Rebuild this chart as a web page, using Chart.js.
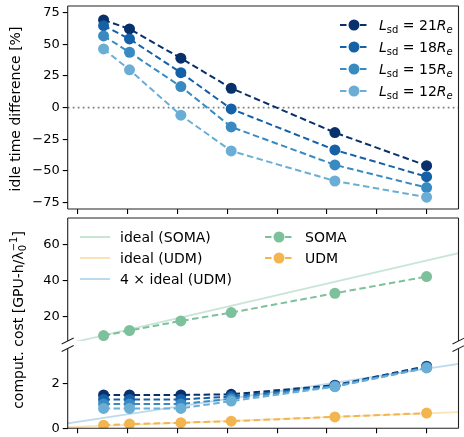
<!DOCTYPE html>
<html>
<head>
<meta charset="utf-8">
<script src="https://cdn.jsdelivr.net/npm/chart.js@4.4.1/dist/chart.umd.min.js"></script>
<style>
  body { margin: 0; background: #fff; width: 464px; height: 437px; overflow: hidden; position: relative;
         font-family: 'DejaVu Sans', sans-serif; color: #000; }
  canvas { position: absolute; left: 0; }
  svg { position: absolute; left: 0; top: 0; pointer-events: none; }
  .lbl { position: absolute; white-space: nowrap; font-size: 14px; line-height: 16px; }
  .lbl sub { font-size: 10px; vertical-align: -3px; line-height: 0; }
  .ytitle { position: absolute; white-space: nowrap; font-size: 14px; line-height: 1;
            transform: translate(-50%, -50%) rotate(-90deg); }
  .ss { display: inline-block; vertical-align: -3px; font-size: 10px; line-height: 9px; text-align: left; }
  .ss span { display: block; }
</style>
</head>
<body>
<canvas id="idle" width="464" height="218" style="top:0"></canvas>
<canvas id="costHi" width="464" height="136" style="top:212px"></canvas>
<canvas id="costLo" width="464" height="94" style="top:343px"></canvas>

<svg id="handles" width="464" height="437"></svg>

<div class="ytitle" style="left:15px;top:109px">idle time difference [%]</div>
<div class="ytitle" style="left:18px;top:320px">comput. cost [GPU-h/λ<span class="ss"><span>−1</span><span>0</span></span>]</div>

<div id="legends"></div>

<script>
// x positions (axis units, tick labels hidden in the figure)
const xVals  = [0.52, 1.04, 2.07, 3.08, 5.16, 7.0];
const xTicks = [0, 1, 2, 3, 4, 5, 6, 7];

// idle time difference [%]
const idle21 = [69.2, 62.1, 39.0, 15.3, -19.7, -45.8];
const idle18 = [64.7, 54.2, 27.6, -1.0, -33.4, -54.5];
const idle15 = [56.6, 43.7, 16.6, -15.2, -45.2, -63.1];
const idle12 = [46.3, 29.8, -6.0, -34.2, -57.9, -70.7];
const idleTicks = [-75, -50, -25, 0, 25, 50, 75];

// computational cost
const costSoma = [9.5, 12.3, 17.6, 22.2, 32.9, 42.1];
const costUdm  = [0.14, 0.19, 0.25, 0.32, 0.51, 0.68];
const cost21 = [1.49, 1.49, 1.49, 1.52, 1.93, 2.78];
const cost18 = [1.29, 1.29, 1.29, 1.42, 1.90, 2.75];
const cost15 = [1.09, 1.09, 1.09, 1.32, 1.88, 2.72];
const cost12 = [0.89, 0.89, 0.89, 1.22, 1.86, 2.70];
const idealX    = [-0.2, 7.64];
const idealSoma = [5.0, 55.1];
const idealUdm  = [0.055, 0.72];
const ideal4Udm = [0.22, 2.88];
const hiTicks = [20, 40, 60];
const loTicks = [0, 2];

const C = {
  b21: '#08306b', b18: '#1461a8', b15: '#3a8ac2', b12: '#6aaed6',
  soma: '#7dc19c', udm: '#f3b64f',
  iSoma: 'rgba(125,193,156,0.42)', iUdm: 'rgba(243,182,79,0.40)', i4Udm: 'rgba(106,174,214,0.45)'
};
const X_MIN = -0.2, X_MAX = 7.64;
const FONT = { family: 'DejaVu Sans', size: 13 };

const pts = ys => ys.map((y, i) => ({ x: xVals[i], y }));
const line = (xs, ys) => xs.map((x, i) => ({ x, y: ys[i] }));

function dashed(label, ys, color, order) {
  return { label, data: pts(ys), borderColor: color, backgroundColor: color,
           borderWidth: 2, borderDash: [6.5, 3.5], pointRadius: 5.5, pointHoverRadius: 5.5,
           pointBorderWidth: 0, order };
}
function ideal(label, ys, color) {
  return { label, data: line(idealX, ys), borderColor: color, borderWidth: 1.8,
           pointRadius: 0, order: 10 };
}

// frame, dotted zero line and axis break marks
const decor = {
  id: 'decor',
  beforeDatasetsDraw(chart, args, o) {
    if (!o.zero) return;
    const { ctx, chartArea: a } = chart;
    const y = chart.scales.y.getPixelForValue(0);
    ctx.save();
    ctx.strokeStyle = '#808080'; ctx.lineWidth = 1.6; ctx.setLineDash([1.8, 3.2]);
    ctx.beginPath(); ctx.moveTo(a.left, y); ctx.lineTo(a.right, y); ctx.stroke();
    ctx.restore();
  },
  afterDraw(chart, args, o) {
    const { ctx, chartArea: a } = chart;
    ctx.save();
    ctx.strokeStyle = '#222'; ctx.lineWidth = 1.1;
    const seg = (x1, y1, x2, y2) => { ctx.beginPath(); ctx.moveTo(x1, y1); ctx.lineTo(x2, y2); ctx.stroke(); };
    const s = o.spines || {};
    if (s.top) seg(a.left, a.top, a.right, a.top);
    if (s.bottom) seg(a.left, a.bottom, a.right, a.bottom);
    if (s.left) seg(a.left, a.top, a.left, a.bottom);
    if (s.right) seg(a.right, a.top, a.right, a.bottom);
    if (o.brk) {
      const y = o.brk === 'bottom' ? a.bottom : a.top;
      seg(a.left - 6, y + 3, a.left + 6, y - 3);
      seg(a.right - 6, y + 3, a.right + 6, y - 3);
    }
    ctx.restore();
  }
};

function panel(id, datasets, cfg) {
  return new Chart(document.getElementById(id), {
    type: 'line',
    data: { datasets },
    plugins: [decor],
    options: {
      responsive: false, animation: false, devicePixelRatio: 1,
      layout: { padding: { top: cfg.padTop, right: 2.3, left: 0, bottom: cfg.padBottom || 0 } },
      plugins: { legend: { display: false }, tooltip: { enabled: false },
                 decor: { spines: cfg.spines, zero: cfg.zero, brk: cfg.brk } },
      scales: {
        x: {
          type: 'linear', min: X_MIN, max: X_MAX, display: cfg.xHeight != null,
          afterBuildTicks: s => { s.ticks = xTicks.map(v => ({ value: v })); },
          ticks: { autoSkip: false, callback: () => '', font: FONT },
          grid: { drawOnChartArea: false, drawTicks: true, tickLength: 5, tickColor: '#000', lineWidth: 1.1 },
          border: { display: false },
          afterFit: s => { s.height = cfg.xHeight; s.paddingLeft = 0; s.paddingRight = 0; }
        },
        y: {
          type: 'linear', min: cfg.yMin, max: cfg.yMax,
          afterBuildTicks: s => { s.ticks = cfg.yTicks.map(v => ({ value: v })); },
          ticks: { font: FONT, color: '#000', padding: 3,
                   callback: v => v < 0 ? '\u2212' + (-v) : String(v) },
          grid: { drawOnChartArea: false, drawTicks: true, tickLength: 5, tickColor: '#000', lineWidth: 1.1 },
          border: { display: false },
          afterFit: s => { s.width = 67.7; s.paddingTop = 0; s.paddingBottom = 0; }
        }
      }
    }
  });
}

panel('idle', [
  dashed('21', idle21, C.b21, 4),
  dashed('18', idle18, C.b18, 3),
  dashed('15', idle15, C.b15, 2),
  dashed('12', idle12, C.b12, 1)
], { padTop: 6, xHeight: 9, yMin: -80, yMax: 80.2, yTicks: idleTicks, zero: true,
     spines: { top: true, bottom: true, left: true, right: true } });

panel('costHi', [
  ideal('ideal (SOMA)', idealSoma, C.iSoma),
  dashed('SOMA', costSoma, C.soma, 1)
], { padTop: 6, padBottom: 7, xHeight: null, yMin: 6.5, yMax: 74.5, yTicks: hiTicks, brk: 'bottom',
     spines: { top: true, left: true, right: true } });

panel('costLo', [
  ideal('ideal (UDM)', idealUdm, C.iUdm),
  ideal('4x ideal (UDM)', ideal4Udm, C.i4Udm),
  dashed('21', cost21, C.b21, 5),
  dashed('18', cost18, C.b18, 4),
  dashed('15', cost15, C.b15, 3),
  dashed('12', cost12, C.b12, 2),
  dashed('UDM', costUdm, C.udm, 1)
], { padTop: 4, xHeight: 8.7, yMin: 0, yMax: 3.57, yTicks: loTicks, brk: 'top',
     spines: { bottom: true, left: true, right: true } });

// legends (html text, svg handles)
const svg = document.getElementById('handles');
const leg = document.getElementById('legends');
function handle(x1, x2, y, color, marker, dash) {
  let s = `<line x1="${x1}" y1="${y}" x2="${x2}" y2="${y}" stroke="${color}" stroke-width="2"` +
          (dash ? ' stroke-dasharray="6.5,3.5"' : '') + '/>';
  if (marker) s += `<circle cx="${(x1 + x2) / 2}" cy="${y}" r="5.5" fill="${color}"/>`;
  svg.insertAdjacentHTML('beforeend', s);
}
function text(x, y, html) {
  leg.insertAdjacentHTML('beforeend', `<div class="lbl" style="left:${x}px;top:${y - 8}px">${html}</div>`);
}
const lsd = [['21', C.b21], ['18', C.b18], ['15', C.b15], ['12', C.b12]];
lsd.forEach(([n, c], i) => {
  const y = 25 + i * 22;
  handle(340, 368, y, c, true, true);
  text(379, y, `<i>L</i><sub>sd</sub> = ${n}<i>R</i><sub><i>e</i></sub>`);
});
[['ideal (SOMA)', C.iSoma], ['ideal (UDM)', C.iUdm], ['4 × ideal (UDM)', C.i4Udm]].forEach(([t, c], i) => {
  const y = 237 + i * 21;
  handle(80, 110, y, c, false, false);
  text(120, y, t);
});
[['SOMA', C.soma], ['UDM', C.udm]].forEach(([t, c], i) => {
  const y = 237 + i * 21;
  handle(265, 293, y, c, true, true);
  text(305, y, t);
});
</script>
</body>
</html>
